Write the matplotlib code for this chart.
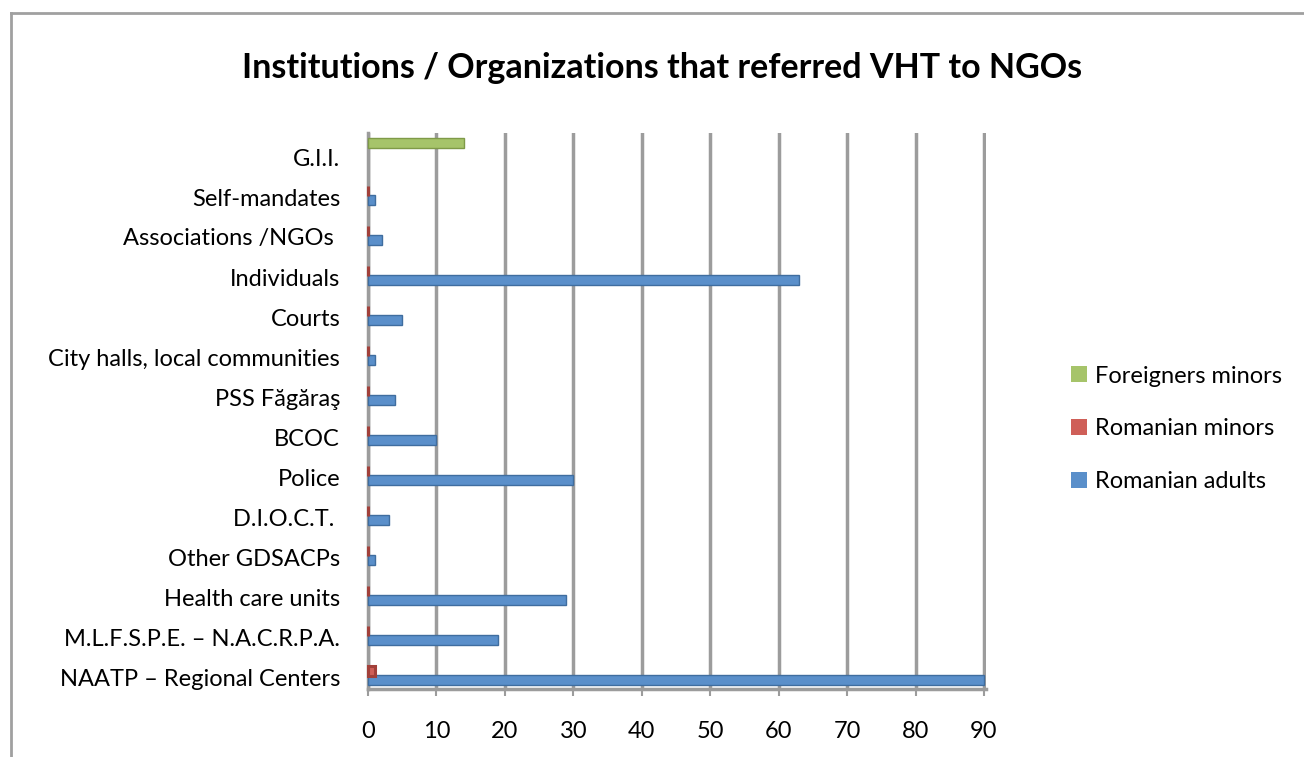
import numpy as np
import matplotlib
matplotlib.use("Agg")
import matplotlib.pyplot as plt
from matplotlib.lines import Line2D
from matplotlib.patches import Patch

# categories listed bottom -> top
categories = [
    "NAATP \u2013 Regional Centers",
    "M.L.F.S.P.E. \u2013 N.A.C.R.P.A.",
    "Health care units",
    "Other GDSACPs",
    "D.I.O.C.T. ",
    "Police",
    "BCOC",
    "PSS F\u0103g\u0103ra\u015f",
    "City halls, local communities",
    "Courts",
    "Individuals",
    "Associations /NGOs ",
    "Self-mandates",
    "G.I.I.",
]
romanian_adults = [90, 19, 29, 1, 3, 30, 10, 4, 1, 5, 63, 2, 1, None]
romanian_minors = [1, 0, 0, 0, 0, 0, 0, 0, 0, 0, 0, 0, 0, None]
foreigners_minors = [None] * 13 + [14]

BLUE, BLUE_E = "#5a8fca", "#3f6d9f"
RED, RED_E = "#cf5f58", "#a2403a"
GREEN, GREEN_E = "#a6c46a", "#7f9a48"
GRID = "#9c9c9c"
FONT = ["Lato", "DejaVu Sans"]

plt.rcParams["font.family"] = FONT

fig = plt.figure(figsize=(13.04, 7.57), dpi=100)
ax = fig.add_axes([368 / 1304, 1 - 689 / 757, 618 / 1304, (689 - 133) / 757])

y = np.arange(len(categories))
h = 0.25


def draw(vals, offset, color, edge, lw):
    ys = [yy + offset for yy, v in zip(y, vals) if v is not None]
    vs = [v for v in vals if v is not None]
    bars = ax.barh(ys, vs, height=h, color=color, edgecolor=edge,
                   linewidth=lw, zorder=3)
    for b in bars:
        b.set_clip_on(False)


draw(romanian_adults, -0.08, BLUE, BLUE_E, 1.0)
draw(romanian_minors, 0.15, RED, RED_E, 2.2)
draw(foreigners_minors, 0.35, GREEN, GREEN_E, 1.0)

ax.set_xlim(0, 90.3)
ax.set_ylim(-0.3, 13.6)
ax.set_xticks(range(0, 91, 10))
ax.set_yticks(y)
ax.set_yticklabels(categories)
ax.tick_params(axis="y", length=0, pad=20, labelsize=17)
ax.tick_params(axis="x", length=5, width=1.5, color=GRID, pad=18,
               labelsize=17)
for t in ax.get_xticklabels() + ax.get_yticklabels():
    t.set_fontfamily(FONT)

ax.grid(axis="x", color=GRID, linewidth=2.5, zorder=1)
for s in ["top", "right"]:
    ax.spines[s].set_visible(False)
ax.spines["left"].set_color(GRID)
ax.spines["left"].set_linewidth(2.5)
ax.spines["bottom"].set_color(GRID)
ax.spines["bottom"].set_linewidth(2.5)

fig.text(0.508, 0.910, "Institutions / Organizations that referred VHT to NGOs",
         ha="center", va="center", fontsize=24.5, fontweight="bold",
         family=FONT)

handles = [Patch(facecolor=GREEN, label="Foreigners minors"),
           Patch(facecolor=RED, label="Romanian minors"),
           Patch(facecolor=BLUE, label="Romanian adults")]
fig.legend(handles=handles, loc="center left",
           bbox_to_anchor=(1050 / 1304, 1 - 429 / 757), frameon=False,
           fontsize=17, handlelength=0.65, handleheight=0.65,
           handletextpad=0.35, labelspacing=1.35)

# chart-area border (left and top edges visible)
fig.add_artist(Line2D([11 / 1304, 11 / 1304], [0, 1 - 13 / 757],
                      transform=fig.transFigure, color="#a0a0a0", lw=2))
fig.add_artist(Line2D([11 / 1304, 1], [1 - 13 / 757, 1 - 13 / 757],
                      transform=fig.transFigure, color="#a0a0a0", lw=2))

fig.savefig("out.png", dpi=100)
